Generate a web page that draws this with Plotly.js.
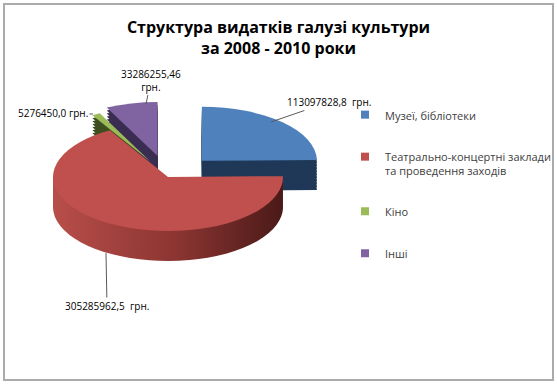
<!DOCTYPE html>
<html><head><meta charset="utf-8">
<script src="https://cdn.plot.ly/plotly-3.0.1.min.js"></script>
<style>html,body{margin:0;padding:0;background:#fff;} #chart{width:557px;height:386px;}</style>
</head><body><div id="chart"></div>
<script>
// ---- data ----
const categories = ['Музеї, бібліотеки', 'Театрально-концертні заклади<br>та проведення заходів', 'Кіно', 'Інші'];
const values = [113097828.8, 305285962.5, 5276450.0, 33286255.46];
const valueLabels = ['113097828,8  грн.', '305285962,5  грн.', '5276450,0 грн.', '33286255,46<br>грн.'];
const titleText = 'Структура видатків галузі культури<br>за 2008 - 2010 роки';

// ---- styles ----
const topColors = ['#4F81BD', '#C0504D', '#9BBB59', '#8064A2'];
const sideColors = ['#1F3857', '#8A3431', '#3D4E1F', '#3B2D52'];
const pulls = [0.42, 0, 0.32, 0.4];
const W = 557, H = 386;
const px = v => v / W, py = v => 1 - v / H;

const squash = 0.47, targetCy = 177, depthOffsets = [30, 27, 24, 21, 18, 15, 12, 9, 6, 3];

const pieBase = {
  type: 'pie', values: values, labels: categories, sort: false, direction: 'clockwise',
  rotation: 0, pull: pulls, textinfo: 'none', hoverinfo: 'none', showlegend: false,
  domain: {x: [px(4.7), px(331.3)], y: [0, 1]}
};
const traces = [];
depthOffsets.forEach(() => traces.push(Object.assign({}, pieBase, {marker: {colors: sideColors, line: {width: 0}}})));
traces.push(Object.assign({}, pieBase, {marker: {colors: topColors, line: {width: 0}}}));
categories.forEach((c, i) => traces.push({
  type: 'scatter', x: [null], y: [null], mode: 'markers', name: c, legendgroup: 'g' + i,
  marker: {symbol: 'square', size: 8, color: topColors[i]}, hoverinfo: 'none'
}));

const labelFont = {family: 'Open Sans', size: 10, color: '#000'};
const labelPos = [
  {tip: [271, 122], off: [58, -20]},
  {tip: [106, 253], off: [1, 53]},
  {tip: [93, 114], off: [-40, -1]},
  {tip: [146, 104], off: [5, -24]}
];
const annotations = valueLabels.map((t, i) => ({
  text: t, xref: 'paper', yref: 'paper', x: px(labelPos[i].tip[0]), y: py(labelPos[i].tip[1]),
  ax: labelPos[i].off[0], ay: labelPos[i].off[1], showarrow: true, arrowhead: 0, arrowwidth: 1,
  arrowcolor: '#595959', font: labelFont, align: 'center'
}));

const layout = {
  width: W, height: H, margin: {l: 0, r: 0, t: 0, b: 0},
  paper_bgcolor: '#fff', plot_bgcolor: 'rgba(0,0,0,0)',
  title: {text: titleText, font: {family: 'Open Sans', size: 16, color: '#000', weight: 'bold'},
    x: 0.5, xanchor: 'center', xref: 'paper', y: 1 - 33 / H, yanchor: 'top', yref: 'container'},
  xaxis: {visible: false}, yaxis: {visible: false},
  legend: {x: px(345), xanchor: 'left', y: py(101), yanchor: 'top', valign: 'top',
    font: {family: 'Open Sans', size: 11, color: '#404040'}, tracegroupgap: 23,
    traceorder: 'grouped', bgcolor: 'rgba(0,0,0,0)'},
  annotations: annotations,
  shapes: [{type: 'rect', xref: 'paper', yref: 'paper', x0: px(4), x1: px(553), y0: py(380), y1: py(4),
    line: {color: '#ABABAB', width: 2}}]
};

const gd = document.getElementById('chart');
Plotly.newPlot(gd, traces, layout, {staticPlot: true}).then(() => {
  const gs = gd.querySelectorAll('.pielayer .trace');
  const nPies = depthOffsets.length + 1;
  const defs = gd.querySelector('svg.main-svg defs');
  const NS = 'http://www.w3.org/2000/svg';
  const grad = document.createElementNS(NS, 'linearGradient');
  grad.setAttribute('id', 'redSide');
  grad.setAttribute('x1', '0'); grad.setAttribute('x2', '1'); grad.setAttribute('y1', '0'); grad.setAttribute('y2', '0');
  [['0', '#B84E4A'], ['0.55', '#8A3431'], ['1', '#4A1A18']].forEach(([o, c]) => {
    const s = document.createElementNS(NS, 'stop'); s.setAttribute('offset', o); s.setAttribute('stop-color', c); grad.appendChild(s);
  });
  if (defs) defs.appendChild(grad);
  for (let i = 0; i < nPies && i < gs.length; i++) {
    const cd0 = gd.calcdata[i][0];
    const off = i < depthOffsets.length ? depthOffsets[i] : 0;
    gs[i].setAttribute('transform', 'translate(0,' + (targetCy + off - squash * cd0.cy) + ') scale(1,' + squash + ')');
    if (i < depthOffsets.length && defs) {
      const slices = gs[i].querySelectorAll('.slice path.surface');
      if (slices[1]) slices[1].style.fill = 'url(#redSide)';
    }
  }
});
</script></body></html>
